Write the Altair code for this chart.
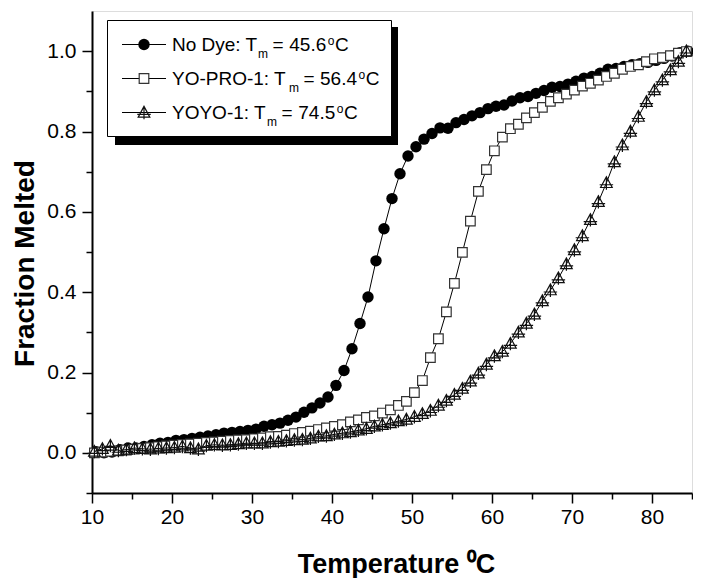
import altair as alt
import pandas as pd

# ---------------- data ----------------
NODYE_T = [10.5, 11.5, 12.5, 13.5, 14.5, 15.5, 16.5, 17.5, 18.5, 19.5,
           20.5, 21.5, 22.5, 23.5, 24.5, 25.5, 26.5, 27.5, 28.5, 29.5,
           30.5, 31.5, 32.5, 33.5, 34.5, 35.5, 36.5, 37.5, 38.5, 39.5,
           40.5, 41.5, 42.5, 43.5, 44.5, 45.5, 46.5, 47.5, 48.5, 49.5,
           50.5, 51.5, 52.5, 53.5, 54.5, 55.5, 56.5, 57.5, 58.5, 59.5,
           60.5, 61.5, 62.5, 63.5, 64.5, 65.5, 66.5, 67.5, 68.5, 69.5,
           70.5, 71.5, 72.5, 73.5, 74.5, 75.5, 76.5, 77.5, 78.5, 79.5,
           80.5, 81.5, 82.5, 83.5, 84.5]
NODYE_F = [0.003, 0.000, 0.002, 0.008, 0.012, 0.012, 0.016, 0.020, 0.024, 0.026,
           0.031, 0.033, 0.036, 0.039, 0.042, 0.045, 0.049, 0.051, 0.053, 0.056,
           0.059, 0.066, 0.070, 0.074, 0.081, 0.089, 0.101, 0.112, 0.124, 0.139,
           0.168, 0.205, 0.259, 0.322, 0.388, 0.478, 0.558, 0.633, 0.695, 0.739,
           0.762, 0.781, 0.795, 0.809, 0.808, 0.822, 0.830, 0.839, 0.847, 0.857,
           0.863, 0.866, 0.876, 0.884, 0.887, 0.895, 0.902, 0.910, 0.912, 0.918,
           0.925, 0.933, 0.937, 0.945, 0.955, 0.957, 0.962, 0.966, 0.969, 0.972,
           0.977, 0.982, 0.988, 0.996, 1.000]

YOPRO_T = [10.3, 11.3, 12.3, 13.3, 14.3, 15.3, 16.3, 17.3, 18.3, 19.3,
           20.3, 21.3, 22.3, 23.3, 24.3, 25.3, 26.3, 27.3, 28.3, 29.3,
           30.3, 31.3, 32.3, 33.3, 34.3, 35.3, 36.3, 37.3, 38.3, 39.3,
           40.3, 41.3, 42.3, 43.3, 44.3, 45.3, 46.3, 47.3, 48.3, 49.3,
           50.3, 51.3, 52.3, 53.3, 54.3, 55.3, 56.3, 57.3, 58.3, 59.3,
           60.3, 61.3, 62.3, 63.3, 64.3, 65.3, 66.3, 67.3, 68.3, 69.3,
           70.3, 71.3, 72.3, 73.3, 74.3, 75.3, 76.3, 77.3, 78.3, 79.3,
           80.3, 81.3, 82.3, 83.3, 84.3]
YOPRO_F = [0.000, 0.002, 0.004, 0.005, 0.007, 0.009, 0.011, 0.013, 0.015, 0.017,
           0.019, 0.021, 0.022, 0.024, 0.026, 0.027, 0.029, 0.031, 0.032, 0.033,
           0.035, 0.037, 0.040, 0.041, 0.044, 0.048, 0.051, 0.054, 0.058, 0.062,
           0.066, 0.070, 0.077, 0.082, 0.088, 0.092, 0.099, 0.107, 0.118, 0.128,
           0.150, 0.180, 0.237, 0.284, 0.351, 0.422, 0.499, 0.577, 0.651, 0.705,
           0.752, 0.786, 0.807, 0.818, 0.834, 0.847, 0.860, 0.875, 0.884, 0.893,
           0.903, 0.913, 0.920, 0.928, 0.937, 0.945, 0.955, 0.962, 0.966, 0.974,
           0.981, 0.984, 0.989, 0.995, 0.999]

YOYO_T = [10.3, 11.3, 12.3, 13.3, 14.3, 15.3, 16.3, 17.3, 18.3, 19.3,
          20.3, 21.3, 22.3, 23.3, 24.3, 25.3, 26.3, 27.3, 28.3, 29.3,
          30.3, 31.3, 32.3, 33.3, 34.3, 35.3, 36.3, 37.3, 38.3, 39.3,
          40.3, 41.3, 42.3, 43.3, 44.3, 45.3, 46.3, 47.3, 48.3, 49.3,
          50.3, 51.3, 52.3, 53.3, 54.3, 55.3, 56.3, 57.3, 58.3, 59.3,
          60.3, 61.3, 62.3, 63.3, 64.3, 65.3, 66.3, 67.3, 68.3, 69.3,
          70.3, 71.3, 72.3, 73.3, 74.3, 75.3, 76.3, 77.3, 78.3, 79.3,
          80.3, 81.3, 82.3, 83.3, 84.3]
YOYO_F = [0.003, 0.010, 0.018, 0.006, 0.008, 0.012, 0.010, 0.009, 0.011, 0.012,
          0.013, 0.016, 0.012, 0.009, 0.018, 0.020, 0.019, 0.020, 0.022, 0.024,
          0.024, 0.024, 0.027, 0.028, 0.030, 0.032, 0.033, 0.036, 0.041, 0.042,
          0.046, 0.049, 0.052, 0.056, 0.060, 0.066, 0.070, 0.074, 0.079, 0.083,
          0.090, 0.097, 0.105, 0.118, 0.130, 0.145, 0.160, 0.178, 0.198, 0.220,
          0.241, 0.252, 0.272, 0.300, 0.322, 0.345, 0.378, 0.405, 0.435, 0.470,
          0.505, 0.540, 0.580, 0.625, 0.672, 0.724, 0.766, 0.800, 0.837, 0.874,
          0.903, 0.928, 0.953, 0.974, 1.000]

SERIES = ["No Dye", "YO-PRO-1", "YOYO-1"]
TM_VALUES = ["45.6", "56.4", "74.5"]

X_DOMAIN = [10, 85]
Y_DOMAIN = [-0.1, 1.1]
X_MAJOR = [10, 20, 30, 40, 50, 60, 70, 80]
X_MINOR = [15, 25, 35, 45, 55, 65, 75, 85]
Y_MAJOR = [0.0, 0.2, 0.4, 0.6, 0.8, 1.0]
Y_MINOR = [-0.1, 0.1, 0.3, 0.5, 0.7, 0.9]

X_TITLE = "Temperature \u2070C"
Y_TITLE = "Fraction Melted"

# ---------------- styling ----------------
FONT = "Liberation Sans"
W, H = 600, 482
TRIANGLE_PATH = "M0,-1L0.95,0.75L-0.95,0.75Z M0,-1.05L0,1.1 M-1.1,0.3L1.1,0.3"

xs = alt.Scale(domain=X_DOMAIN, nice=False, zero=False)
ys = alt.Scale(domain=Y_DOMAIN, nice=False, zero=False)

axis_common = dict(grid=False, tickColor="black", tickWidth=1.5,
                   labelFont=FONT, labelColor="black", labelFontSize=21,
                   titleFont=FONT, titleColor="black", titleFontWeight="bold",
                   labelFlush=False, labelOverlap=False)

x_major = alt.Axis(orient="bottom", values=X_MAJOR, format="d", tickSize=10,
                   domain=True, domainColor="black", domainWidth=2,
                   labelPadding=3, title=X_TITLE, titleFontSize=27,
                   titleX=304, titleY=79, titleAlign="center",
                   titleBaseline="alphabetic", **axis_common)
y_major = alt.Axis(orient="left", values=Y_MAJOR, format=".1f", tickSize=10,
                   domain=True, domainColor="black", domainWidth=2,
                   labelPadding=6, title=Y_TITLE, titleFontSize=28,
                   titleAngle=270, titleX=-67, titleY=252, titleAlign="center",
                   titleBaseline="middle", **axis_common)
x_minor = alt.Axis(orient="bottom", values=X_MINOR, tickSize=6, labels=False,
                   domain=False, title=None, grid=False, tickColor="black", tickWidth=1.5)
y_minor = alt.Axis(orient="left", values=Y_MINOR, tickSize=6, labels=False,
                   domain=False, title=None, grid=False, tickColor="black", tickWidth=1.5)


def frame(ts, fs):
    return pd.DataFrame({"t": ts, "f": fs})


df_nd = frame(NODYE_T, NODYE_F)
df_yp = frame(YOPRO_T, YOPRO_F)
df_yy = frame(YOYO_T, YOYO_F)


def enc(chart, xaxis=None, yaxis=None):
    return chart.encode(
        x=alt.X("t:Q", scale=xs, axis=xaxis),
        y=alt.Y("f:Q", scale=ys, axis=yaxis),
        order=alt.Order("t:Q"),
    )


line_kw = dict(color="black", strokeWidth=1)
circle_kw = dict(shape="circle", filled=True, color="black", size=130, opacity=1)
square_kw = dict(shape="square", filled=True, fill="white", stroke="#333333",
                 strokeWidth=1.2, size=92, opacity=1)
tri_kw = dict(shape=TRIANGLE_PATH, filled=False, stroke="#111111",
              strokeWidth=1.2, size=150, opacity=1)

layers = [
    enc(alt.Chart(df_nd).mark_line(**line_kw), x_major, y_major),
    enc(alt.Chart(df_nd).mark_point(**circle_kw), x_minor, y_minor),
    enc(alt.Chart(df_yp).mark_line(**line_kw)),
    enc(alt.Chart(df_yp).mark_point(**square_kw)),
    enc(alt.Chart(df_yy).mark_line(**line_kw)),
    enc(alt.Chart(df_yy).mark_point(**tri_kw)),
]

# ---------------- legend (drawn by hand to keep T_m sub/superscripts) ----------------
one = pd.DataFrame({"k": [0]})
base = alt.Chart(one)
layers.append(base.mark_rect(color="black").encode(
    x=alt.value(23), x2=alt.value(306), y=alt.value(16), y2=alt.value(134)))
layers.append(base.mark_rect(fill="white", stroke="black", strokeWidth=1).encode(
    x=alt.value(15.5), x2=alt.value(299.5), y=alt.value(9.5), y2=alt.value(125.5)))

MAIN_FS, SMALL_FS = 19, 12
row_y = [33.5, 67.5, 101.5]
marker_kw = [circle_kw, square_kw, tri_kw]
m_x = [166, 197, 175]
eq_x = [180.5, 211.5, 189.5]
num_x = [197.3, 228, 206.3]
num_w = 1.946 * MAIN_FS          # Arial/Liberation advance of "dd.d"
txt = dict(font=FONT, fontSize=MAIN_FS, color="black", baseline="alphabetic", align="left")
small = dict(font=FONT, fontSize=SMALL_FS, color="black", baseline="alphabetic", align="left")
for i, name in enumerate(SERIES):
    cy = row_y[i]
    bl = cy + 6.8
    o_x = num_x[i] + num_w + 1.5
    c_x = o_x + 0.556 * SMALL_FS + 0.5
    layers.append(base.mark_rule(color="black", strokeWidth=1).encode(
        x=alt.value(30), x2=alt.value(74), y=alt.value(cy)))
    layers.append(base.mark_point(**marker_kw[i]).encode(
        x=alt.value(52), y=alt.value(cy)))
    layers.append(base.mark_text(text=f"{name}: T", **txt).encode(
        x=alt.value(80), y=alt.value(bl)))
    layers.append(base.mark_text(text="m", **small).encode(
        x=alt.value(m_x[i]), y=alt.value(bl + 6.5)))
    layers.append(base.mark_text(text="=", **txt).encode(
        x=alt.value(eq_x[i]), y=alt.value(bl)))
    layers.append(base.mark_text(text=TM_VALUES[i], **txt).encode(
        x=alt.value(num_x[i]), y=alt.value(bl)))
    layers.append(base.mark_text(text="o", **small).encode(
        x=alt.value(o_x), y=alt.value(bl - 6.5)))
    layers.append(base.mark_text(text="C", **txt).encode(
        x=alt.value(c_x), y=alt.value(bl)))

chart = (
    alt.layer(*layers)
    .resolve_axis(x="independent", y="independent")
    .properties(width=W, height=H,
                padding={"left": 84, "top": 3, "right": 1, "bottom": 85},
                autosize=alt.AutoSizeParams(type="none"))
    .configure_view(stroke="black", strokeWidth=2)
    .configure(background="white")
)

chart.save("out.html", embed_options={"renderer": "svg", "actions": False})
